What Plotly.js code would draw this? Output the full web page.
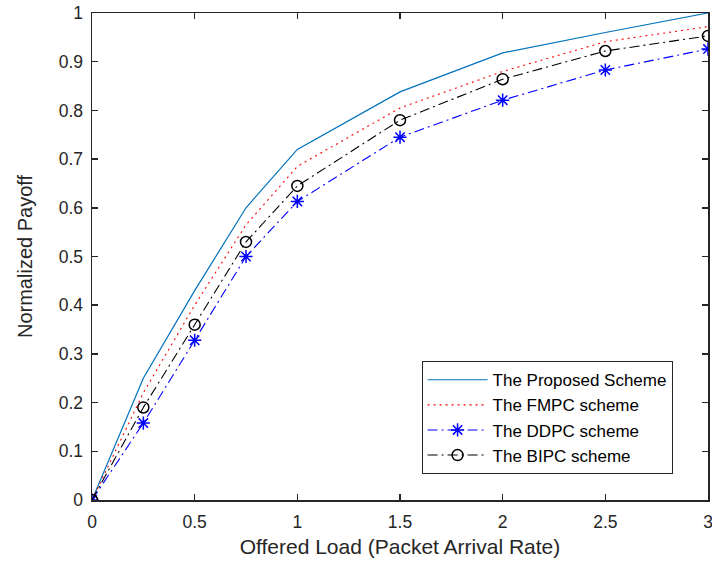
<!DOCTYPE html>
<html>
<head>
<meta charset="utf-8">
<script src="https://cdn.plot.ly/plotly-3.0.1.min.js"></script>
<style>html,body{margin:0;padding:0;background:#fff;}#chart{width:712px;height:562px;}</style>
</head>
<body>
<div id="chart"></div>
<script>
var load = [0, 0.25, 0.5, 0.75, 1, 1.5, 2, 2.5, 3];
var proposed = [0, 0.25, 0.43, 0.60, 0.72, 0.838, 0.918, 0.960, 1.0];
var fmpc = [0, 0.22, 0.40, 0.565, 0.685, 0.805, 0.880, 0.941, 0.972];
var ddpc = [0, 0.158, 0.328, 0.50, 0.613, 0.745, 0.821, 0.883, 0.926];
var bipc = [0, 0.19, 0.36, 0.53, 0.645, 0.78, 0.864, 0.922, 0.953];
var names = ["The Proposed Scheme", "The FMPC scheme", "The DDPC scheme", "The BIPC scheme"];
var xTicks = [0, 0.5, 1, 1.5, 2, 2.5, 3];
var xTickText = ["0", "0.5", "1", "1.5", "2", "2.5", "3"];
var yTicks = [0, 0.1, 0.2, 0.3, 0.4, 0.5, 0.6, 0.7, 0.8, 0.9, 1];
var yTickText = ["0", "0.1", "0.2", "0.3", "0.4", "0.5", "0.6", "0.7", "0.8", "0.9", "1"];

var FONT = "Liberation Sans, Arial, Helvetica, sans-serif";
var traces = [
  {x: load, y: proposed, name: names[0], mode: "lines", line: {color: "#0072BD", width: 1.2, dash: "solid"}},
  {x: load, y: fmpc, name: names[1], mode: "lines", line: {color: "#FF0000", width: 1.1, dash: "2px,4px"}},
  {x: load, y: ddpc, name: names[2], mode: "lines+markers", line: {color: "#0000FF", width: 1.1, dash: "10px,4px,2px,4px"},
   marker: {symbol: "asterisk-open", size: 11, color: "#0000FF", line: {color: "#0000FF", width: 1.5}}},
  {x: load, y: bipc, name: names[3], mode: "lines+markers", line: {color: "#000000", width: 1.1, dash: "10px,4px,2px,4px"},
   marker: {symbol: "circle-open", size: 11, color: "#000000", line: {color: "#000000", width: 1.5}}}
];

var axisCommon = {
  showline: true, linecolor: "#262626", linewidth: 1.5, mirror: "allticks",
  ticks: "inside", ticklen: 6, tickwidth: 1.5, tickcolor: "#262626",
  showgrid: false, zeroline: false, ticklabeloverflow: "allow",
  tickfont: {family: FONT, size: 17.5, color: "#262626"}
};

var layout = {
  width: 712, height: 562,
  margin: {l: 92, r: 4, t: 13, b: 62},
  paper_bgcolor: "#fff", plot_bgcolor: "#fff",
  showlegend: true,
  xaxis: Object.assign({}, axisCommon, {
    range: [0, 3], tickvals: xTicks, ticktext: xTickText, ticklabelstandoff: 5,
    title: {text: "Offered Load (Packet Arrival Rate)", font: {family: FONT, size: 21, color: "#262626"}, standoff: 9}
  }),
  yaxis: Object.assign({}, axisCommon, {
    range: [0, 1], tickvals: yTicks, ticktext: yTickText, ticklabelstandoff: 4,
    title: {text: "Normalized Payoff", font: {family: FONT, size: 20, color: "#262626"}, standoff: 20}
  }),
  legend: {
    x: 0.535, y: 0.285, xanchor: "left", yanchor: "top",
    bgcolor: "#fff", bordercolor: "#262626", borderwidth: 1,
    font: {family: FONT, size: 17, color: "#000"},
    itemwidth: 60, tracegroupgap: 0
  }
};

Plotly.newPlot("chart", traces, layout, {displayModeBar: false, staticPlot: true});
</script>
</body>
</html>
